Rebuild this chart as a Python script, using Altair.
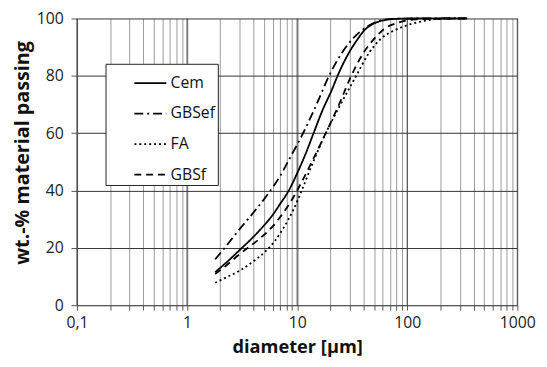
import altair as alt
import pandas as pd

series = ["Cem", "GBSef", "FA", "GBSf"]

cem_d = [1.8, 2.0, 2.5, 3.0, 4.0, 5.0, 6.0, 7.0, 8.4, 10, 12, 14.1, 17, 20.6, 23.6, 29, 35, 40.6, 50, 60, 80, 120, 350]
cem_v = [11.5, 13, 16.3, 19.2, 23.8, 27.8, 31.5, 35.3, 40, 46, 53, 60, 68, 75, 80.5, 87.5, 92.5, 95.8, 98.3, 99.3, 99.9, 100, 100]

gbsef_d = [1.8, 2.2, 2.9, 3.95, 5.2, 6.2, 7.0, 8.5, 10, 11.5, 15, 19.5, 25, 33, 40, 50, 70, 120, 350]
gbsef_v = [16, 20, 25.8, 32, 37.8, 41.9, 45, 51, 56, 60.5, 70, 80, 87.5, 93.5, 96.3, 98.5, 99.8, 100, 100]

fa_d = [1.8, 2.3, 3.0, 4.0, 5.2, 6.3, 7.4, 9.3, 11, 14, 18.2, 24, 34.4, 45, 57.5, 76, 107, 150, 220, 350]
fa_v = [7.8, 9.8, 12, 15.3, 18.9, 22.5, 26.5, 33.5, 40, 50, 60, 69, 80, 88, 92.9, 95.8, 98, 99.3, 100, 100]

gbsf_d = [1.8, 2.3, 3.0, 4.5, 6.0, 7.1, 9.3, 10.5, 14, 18.2, 24, 31, 40, 50, 61.5, 84, 120, 350]
gbsf_v = [10.9, 14, 17.8, 23, 27.5, 31, 37.8, 41.5, 51, 60, 70, 80, 88, 92.9, 96.3, 98.6, 99.7, 100]

decades = [0.1, 1, 10, 100, 1000]
y_ticks = [0, 20, 40, 60, 80, 100]
x_minor = [round(m * 10 ** e, 6) for e in range(-1, 3) for m in range(1, 10)] + [1000]

dashes = [[1, 0], [9, 4, 2, 4], [2, 3], [7, 5]]

rows = []
for name, ds, vs in [("Cem", cem_d, cem_v), ("GBSef", gbsef_d, gbsef_v),
                     ("FA", fa_d, fa_v), ("GBSf", gbsf_d, gbsf_v)]:
    for d, v in zip(ds, vs):
        rows.append({"series": name, "d": d, "v": v})
df = pd.DataFrame(rows)
dec_df = pd.DataFrame({"d": decades})

FONT = "Open Sans"

xscale = alt.Scale(type="log", domain=[0.1, 1000], nice=False)
yscale = alt.Scale(domain=[0, 100], nice=False)

label_expr = ("datum.value == 0.1 ? '0,1' : (datum.value == 1 || datum.value == 10 || "
              "datum.value == 100 || datum.value == 1000) ? format(datum.value, 'd') : ''")

lines = alt.Chart(df).mark_line(interpolate="monotone", strokeWidth=1.8, color="black").encode(
    x=alt.X("d:Q", scale=xscale,
            axis=alt.Axis(values=x_minor, labelExpr=label_expr, title="diameter [µm]",
                          grid=True, gridColor="#9a9a9a", gridWidth=1,
                          labelOverlap=False, labelFlush=False, tickSize=5,
                          tickColor="#555", domainColor="#555",
                          labelFontSize=16, titleFontSize=18.5, titleFontWeight="bold",
                          labelPadding=5, titlePadding=7, labelColor="#222", titleColor="#111")),
    y=alt.Y("v:Q", scale=yscale,
            axis=alt.Axis(values=y_ticks, title="wt.-% material passing", grid=True,
                          gridColor="#333", gridWidth=1, tickSize=6, tickColor="#555",
                          domainColor="#555", labelFontSize=16, titleFontSize=20,
                          titleFontWeight="bold", labelPadding=8, titlePadding=4,
                          titleY=136,
                          labelColor="#222", titleColor="#111")),
    strokeDash=alt.StrokeDash("series:N", sort=series,
                              scale=alt.Scale(domain=series, range=dashes),
                              legend=alt.Legend(title=None, orient="none", legendX=29, legendY=46,
                                                fillColor="white", strokeColor="#222",
                                                padding=2, symbolType="stroke", symbolSize=1050,
                                                symbolStrokeWidth=1.8, symbolStrokeColor="black",
                                                symbolOffset=26, labelOffset=3, rowPadding=5,
                                                labelFontSize=16, labelFont=FONT, labelColor="#111")),
    detail="series:N",
)

dec_rules = alt.Chart(dec_df).mark_rule(color="#444", strokeWidth=1).encode(
    x=alt.X("d:Q", scale=xscale)
)

chart = alt.layer(dec_rules, lines).properties(
    width=447, height=291,
    autosize=alt.AutoSizeParams(type="none"),
    padding={"left": 70, "top": 8, "right": 22, "bottom": 52},
).configure_view(stroke=None).configure_axis(labelFont=FONT, titleFont=FONT)

chart.save("out.html", embed_options={"renderer": "svg", "actions": False})
